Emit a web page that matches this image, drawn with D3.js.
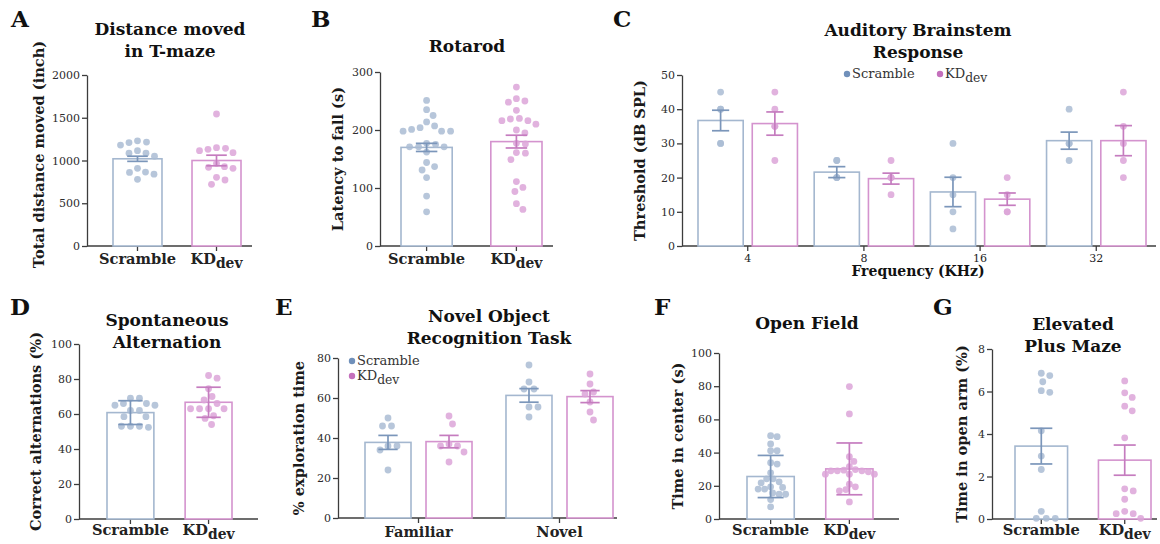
<!DOCTYPE html>
<html>
<head>
<meta charset="utf-8">
<script src="https://cdn.jsdelivr.net/npm/d3@7"></script>
<style>
  body { margin: 0; background: #fff; }
  text { font-family: "DejaVu Serif", serif; }
</style>
</head>
<body>
<svg id="fig" width="1160" height="544"></svg>
<script>
// ---------------- data ----------------
const groups = ["Scramble", "KD"];

// A: distance moved in T-maze (mean +/- SEM)
const distMean = [1020, 1000];
const distErr = [30, 62];
const distScramble = [1210, 1180, 1230, 1215, 1115, 1050, 1085, 1085, 908, 860, 780, 840, 865];
const distKD = [1544, 1150, 1131, 1092, 1115, 1142, 967, 920, 908, 928, 803, 772, 721];

// B: rotarod
const rotMean = [170, 180];
const rotErr = [7, 11];
const rotScramble = [251, 235, 225, 214, 204, 207, 198, 198, 198, 201, 177, 171, 162, 171, 171, 175, 144, 137, 131, 118, 86, 59];
const rotKD = [274, 254, 248, 250, 234, 216, 210, 216, 220, 219, 200, 195, 177, 176, 160, 161, 149, 111, 101, 94, 73, 63];

// C: auditory brainstem response
const abrFreq = ["4", "8", "16", "32"];
const abrScrambleMean = [36.7, 21.6, 15.8, 30.8];
const abrScrambleErr = [3.0, 1.6, 4.3, 2.5];
const abrKDMean = [35.8, 19.7, 13.7, 30.8];
const abrKDErr = [3.4, 1.6, 1.8, 4.4];
const abrScramble = [[45, 40, 40, 30, 30], [25, 25, 20, 20, 20], [30, 20, 15, 10, 5], [40, 30, 30, 25]];
const abrKD = [[45, 40, 35, 35, 25], [25, 20, 20, 20, 15], [20, 15, 10, 10], [45, 35, 30, 25, 20]];

// D: spontaneous alternation (mean +/- SD)
const altMean = [60.8, 66.7];
const altErr = [6.8, 8.6];
const altScramble = [69, 69, 66, 66, 65, 65, 62, 62, 58.5, 58.5, 53, 53, 53, 52.4];
const altKD = [82, 80.5, 74.5, 70, 68, 66, 63, 63, 63, 63, 59, 57.5, 54];

// E: novel object recognition
const norCats = ["Familiar", "Novel"];
const norScrambleMean = [37.8, 61.3];
const norScrambleErr = [3.5, 3.4];
const norKDMean = [38.2, 60.7];
const norKDErr = [3.1, 3.0];
const norScramble = [[50, 46, 46, 36, 36, 34, 24], [76.5, 68, 64.5, 64.5, 55.5, 55.5, 50.5]];
const norKD = [[51, 47, 37, 36, 36, 33, 28], [72, 67, 63, 62, 58, 53, 49]];

// F: open field (mean +/- SD)
const ofMean = [25.6, 30.2];
const ofErr = [12.7, 15.6];
const ofScramble = [50.2, 49.6, 45.2, 41.1, 41.1, 33.9, 33.1, 27.8, 24.2, 24.2, 22.4, 21.8, 19.4, 19, 18, 18, 15.7, 14.9, 14.9, 11.7, 7.3];
const ofKD = [79.8, 63.3, 37.5, 34.7, 31.5, 29.8, 29.4, 28.4, 29, 29, 29, 27, 27, 27, 21, 19.4, 17.7, 17, 10.3];

// G: elevated plus maze
const epmMean = [3.43, 2.77];
const epmErr = [0.84, 0.71];
const epmScramble = [6.86, 6.75, 6.46, 6.04, 5.96, 4.15, 2.96, 2.33, 0.36, 0.03, 0.03, 0.03];
const epmKD = [6.5, 5.72, 5.94, 5.31, 5.09, 3.82, 1.42, 1.32, 0.93, 0.36, 0.25, 0.25, 0.03];

// ---------------- drawing ----------------
const svg = d3.select("#fig");
const col = {
  Scramble: { bar: "#a4b7cf", dot: "#aabcd4", err: "#7b96ba", key: "#7090ba" },
  KD: { bar: "#d493ce", dot: "#dca5d8", err: "#c57cbf", key: "#c470bc" }
};
const R = 3.4;
const LAB = 14.6;   // bold serif labels

function groupLabel(sel, name, size) {
  if (name === "KD") {
    sel.append("tspan").text("KD");
    sel.append("tspan").attr("dy", size * 0.28).attr("font-size", size * 0.95).text("dev");
  } else {
    sel.text(name);
  }
}

// simple beeswarm: place each dot as close to the centre as it can go
function swarm(vals, y, gap) {
  const pts = vals.map(v => ({ v, y: y(v), dx: 0 })).sort((a, b) => a.y - b.y);
  const placed = [];
  const d = 2 * R + gap;
  pts.forEach(p => {
    for (let k = 0; k < 200; k++) {
      const off = (k % 2 ? 1 : -1) * Math.ceil(k / 2) * 0.5;
      const hit = placed.some(q => (q.dx - off) ** 2 + (q.y - p.y) ** 2 < d * d);
      if (!hit) { p.dx = off; break; }
    }
    placed.push(p);
  });
  return pts;
}

function panel(o) {
  const g = svg.append("g");
  const y = d3.scaleLinear().domain([0, o.max]).range([o.bottom, o.top]);
  const x = d3.scaleBand().domain(o.cats).range(o.band).paddingInner(o.pad);
  const xs = o.inner != null
    ? d3.scaleBand().domain(groups).range([0, x.bandwidth()]).paddingInner(o.inner)
    : null;
  const bw = xs ? xs.bandwidth() : x.bandwidth();
  const left = b => x(b.cat) + (xs ? xs(b.s) : 0);

  // y axis
  const ya = g.append("g")
    .attr("transform", `translate(${o.axisL},0)`)
    .call(d3.axisLeft(y).tickValues(o.ticks).tickFormat(d3.format("d"))
      .tickSize(5).tickSizeOuter(0).tickPadding(2));
  ya.selectAll("path,line").attr("stroke", "#3c3c3c").attr("stroke-width", 1.3);
  ya.selectAll("text").attr("font-family", "DejaVu Sans").attr("font-size", 11).attr("fill", "#2c2c2c");

  // x axis
  g.append("line")
    .attr("x1", o.axisL).attr("x2", o.axisR)
    .attr("y1", o.bottom).attr("y2", o.bottom)
    .attr("stroke", "#3c3c3c").attr("stroke-width", 1.3);
  const xa = g.append("g")
    .attr("transform", `translate(0,${o.bottom})`)
    .call(d3.axisBottom(x).tickSize(5).tickFormat(""));
  xa.select(".domain").remove();
  xa.selectAll("line").attr("stroke", "#3c3c3c").attr("stroke-width", 1.3);

  g.selectAll(".xl").data(o.cats).enter().append("text")
    .attr("x", c => x(c) + x.bandwidth() / 2)
    .attr("y", o.bottom + (o.numCats ? 16 : (o.xlOff || 18)))
    .attr("text-anchor", "middle")
    .attr("font-family", o.numCats ? "DejaVu Sans" : "DejaVu Serif")
    .attr("font-weight", o.numCats ? "normal" : "bold")
    .attr("font-size", o.numCats ? 11 : LAB)
    .attr("fill", "#222")
    .each(function (c) { groupLabel(d3.select(this), c, LAB); });

  // bars
  g.selectAll(".bar").data(o.bars).enter().append("rect")
    .attr("x", b => left(b)).attr("width", bw)
    .attr("y", b => y(b.mean)).attr("height", b => o.bottom - y(b.mean))
    .attr("fill", "#fff")
    .attr("stroke", b => col[b.s].bar).attr("stroke-width", 1.6);

  // dots
  o.bars.forEach(b => {
    const cx = left(b) + bw / 2;
    const pts = o.swarm ? swarm(b.pts, y, o.gap != null ? o.gap : 1.8)
      : b.pts.map(v => ({ v, y: y(v), dx: 0 }));
    g.append("g").selectAll("circle").data(pts).enter().append("circle")
      .attr("cx", p => cx + p.dx).attr("cy", p => p.y).attr("r", R)
      .attr("fill", col[b.s].dot).attr("fill-opacity", 0.85);
  });

  // error bars
  const cap = bw * (o.cap || 0.42);
  o.bars.forEach(b => {
    const cx = left(b) + bw / 2;
    const e = g.append("g").attr("stroke", col[b.s].err).attr("stroke-width", 1.7);
    e.append("line").attr("x1", cx).attr("x2", cx)
      .attr("y1", y(b.mean - b.err)).attr("y2", y(b.mean + b.err));
    [b.mean - b.err, b.mean + b.err].forEach(v => {
      e.append("line").attr("x1", cx - cap / 2).attr("x2", cx + cap / 2)
        .attr("y1", y(v)).attr("y2", y(v));
    });
  });

  // y label
  g.append("text")
    .attr("transform", `translate(${o.axisL - o.yLabOff},${(o.top + o.bottom) / 2 + (o.yLabDy || 0)}) rotate(-90)`)
    .attr("text-anchor", "middle")
    .attr("font-weight", "bold").attr("font-size", LAB).attr("fill", "#1a1a1a")
    .text(o.yLabel);

  // title
  o.title.forEach((t, i) => {
    g.append("text")
      .attr("x", o.titleX).attr("y", o.titleY + i * 22)
      .attr("text-anchor", "middle")
      .attr("font-weight", "bold").attr("font-size", 17).attr("fill", "#111")
      .text(t);
  });

  // panel letter
  g.append("text")
    .attr("x", o.letterX).attr("y", o.letterY)
    .attr("font-weight", "bold").attr("font-size", 23).attr("fill", "#111")
    .text(o.letter);

  return { g, x, y };
}

function twoBars(mean, err, a, b) {
  return [
    { cat: "Scramble", s: "Scramble", mean: mean[0], err: err[0], pts: a },
    { cat: "KD", s: "KD", mean: mean[1], err: err[1], pts: b }
  ];
}

function grouped(cats, mS, eS, pS, mK, eK, pK) {
  const out = [];
  cats.forEach((c, i) => {
    out.push({ cat: c, s: "Scramble", mean: mS[i], err: eS[i], pts: pS[i] });
    out.push({ cat: c, s: "KD", mean: mK[i], err: eK[i], pts: pK[i] });
  });
  return out;
}

function legend(g, x0, y0, dx, dy) {
  groups.forEach((s, i) => {
    const lx = x0 + i * dx, ly = y0 + i * dy;
    g.append("circle").attr("cx", lx).attr("cy", ly).attr("r", 3.2).attr("fill", col[s].key);
    const t = g.append("text").attr("x", lx + 5).attr("y", ly + 4)
      .attr("font-size", 13).attr("fill", "#333");
    groupLabel(t, s, 13);
  });
}

// A
panel({
  letter: "A", letterX: 11, letterY: 27,
  title: ["Distance moved", "in T-maze"], titleX: 170, titleY: 35,
  yLabel: "Total distance moved (inch)", yLabOff: 43, yLabDy: -6,
  axisL: 87, axisR: 252, top: 75, bottom: 246, max: 2000, ticks: [0, 500, 1000, 1500, 2000],
  cats: groups, band: [113, 241], pad: 0.38,
  bars: twoBars(distMean, distErr, distScramble, distKD), swarm: true
});

// B
panel({
  letter: "B", letterX: 311, letterY: 27,
  title: ["Rotarod"], titleX: 467, titleY: 52,
  yLabel: "Latency to fall (s)", yLabOff: 37,
  axisL: 380, axisR: 553, top: 72, bottom: 246, max: 300, ticks: [0, 100, 200, 300],
  cats: groups, band: [401, 542], pad: 0.43,
  bars: twoBars(rotMean, rotErr, rotScramble, rotKD), swarm: true
});

// C
const pc = panel({
  letter: "C", letterX: 613, letterY: 27,
  title: ["Auditory Brainstem", "Response"], titleX: 918, titleY: 36,
  yLabel: "Threshold (dB SPL)", yLabOff: 37,
  axisL: 682, axisR: 1156, top: 75, bottom: 246, max: 50, ticks: [0, 10, 20, 30, 40, 50],
  cats: abrFreq, band: [698, 1146], pad: 0.144, inner: 0.167, numCats: true, cap: 0.38,
  bars: grouped(abrFreq, abrScrambleMean, abrScrambleErr, abrScramble, abrKDMean, abrKDErr, abrKD),
  swarm: false
});
legend(pc.g, 847, 74, 93, 0);
pc.g.append("text")
  .attr("x", 918).attr("y", 276).attr("text-anchor", "middle")
  .attr("font-weight", "bold").attr("font-size", 14).attr("fill", "#111")
  .text("Frequency (KHz)");

// D
panel({
  letter: "D", letterX: 10, letterY: 315,
  title: ["Spontaneous", "Alternation"], titleX: 167, titleY: 326,
  yLabel: "Correct alternations (%)", yLabOff: 38,
  axisL: 79, axisR: 258, top: 344, bottom: 519, max: 100, ticks: [0, 20, 40, 60, 80, 100],
  cats: groups, band: [107, 232], pad: 0.4, cap: 0.52, xlOff: 16,
  bars: twoBars(altMean, altErr, altScramble, altKD), swarm: true
});

// E
const pe = panel({
  letter: "E", letterX: 275, letterY: 315,
  title: ["Novel Object", "Recognition Task"], titleX: 489, titleY: 322,
  yLabel: "% exploration time", yLabOff: 34,
  axisL: 338, axisR: 617, top: 358, bottom: 518, max: 80, ticks: [0, 20, 40, 60, 80],
  cats: norCats, band: [365, 613], pad: 0.241, inner: 0.246, xlOff: 19,
  bars: grouped(norCats, norScrambleMean, norScrambleErr, norScramble, norKDMean, norKDErr, norKD),
  swarm: true
});
legend(pe.g, 352, 361, 0, 15);

// F
panel({
  letter: "F", letterX: 654, letterY: 315,
  title: ["Open Field"], titleX: 807, titleY: 329,
  yLabel: "Time in center (s)", yLabOff: 36,
  axisL: 719, axisR: 899, top: 353, bottom: 519, max: 100, ticks: [0, 20, 40, 60, 80, 100],
  cats: groups, band: [747, 873], pad: 0.4, cap: 0.55, xlOff: 16, gap: -0.4,
  bars: twoBars(ofMean, ofErr, ofScramble, ofKD), swarm: true
});

// G
panel({
  letter: "G", letterX: 933, letterY: 315,
  title: ["Elevated", "Plus Maze"], titleX: 1073, titleY: 330,
  yLabel: "Time in open arm (%)", yLabOff: 25,
  axisL: 992, axisR: 1157, top: 349, bottom: 519, max: 8, ticks: [0, 2, 4, 6, 8],
  cats: groups, band: [1015, 1151], pad: 0.37, xlOff: 16,
  bars: twoBars(epmMean, epmErr, epmScramble, epmKD), swarm: true
});
</script>
</body>
</html>
